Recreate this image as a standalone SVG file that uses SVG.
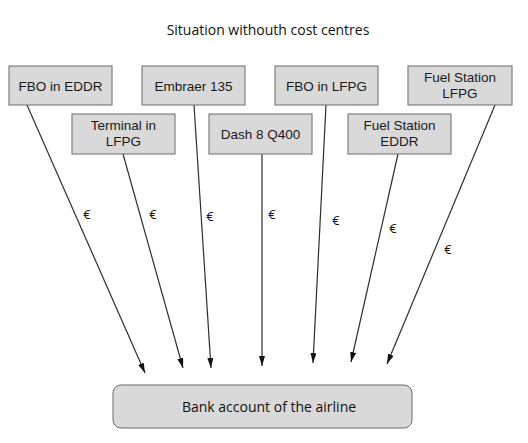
<svg xmlns="http://www.w3.org/2000/svg" width="528" height="443" viewBox="0 0 528 443">
<defs>
<style>
.box{fill:#d9d9d9;stroke:#6b6b6b;stroke-width:1}
.bt{font-family:"Liberation Sans",Arial,sans-serif;font-size:13.5px;fill:#1a1a1a;text-anchor:middle}
.ct{font-family:"Open Sans","Liberation Sans",sans-serif;font-size:14px;fill:#111;text-anchor:middle}
.eu{font-family:"Open Sans","Liberation Sans",sans-serif;font-size:13px;fill:#111;text-anchor:middle}
.ln{stroke:#2e2e2e;stroke-width:1.2;fill:none;marker-end:url(#ah)}
</style>
<marker id="ah" viewBox="0 0 10 6" refX="10" refY="3" markerWidth="10" markerHeight="6" markerUnits="userSpaceOnUse" orient="auto">
<path d="M0,0 L10,3 L0,6 Z" fill="#111"/>
</marker>
</defs>
<rect width="528" height="443" fill="#fff"/>
<text class="ct" x="268" y="35">Situation withouth cost centres</text>
<g id="connectors">
<line class="ln" x1="27" y1="105" x2="145" y2="373"/>
<line class="ln" x1="123" y1="154" x2="183" y2="368"/>
<line class="ln" x1="194" y1="105" x2="211" y2="368"/>
<line class="ln" x1="262" y1="154" x2="262" y2="366"/>
<line class="ln" x1="326" y1="105" x2="313" y2="363"/>
<line class="ln" x1="398" y1="154" x2="351" y2="362"/>
<line class="ln" x1="495" y1="105" x2="387" y2="364"/>
<text class="eu" x="87" y="219">€</text>
<text class="eu" x="153" y="219">€</text>
<text class="eu" x="210" y="221">€</text>
<text class="eu" x="272" y="219">€</text>
<text class="eu" x="336" y="225">€</text>
<text class="eu" x="393" y="233">€</text>
<text class="eu" x="448" y="254">€</text>
</g>
<g id="fbo-eddr"><rect class="box" x="9" y="66" width="103" height="39"/><text class="bt" x="60.5" y="90.5">FBO in EDDR</text></g>
<g id="embraer"><rect class="box" x="142" y="66" width="103" height="39"/><text class="bt" x="193.5" y="90.5">Embraer 135</text></g>
<g id="fbo-lfpg"><rect class="box" x="275" y="66" width="103" height="39"/><text class="bt" x="326.5" y="90.5">FBO in LFPG</text></g>
<g id="fuel-lfpg"><rect class="box" x="408" y="66" width="104" height="39"/><text class="bt" x="460" y="82">Fuel Station</text><text class="bt" x="460" y="98">LFPG</text></g>
<g id="terminal-lfpg"><rect class="box" x="72" y="114" width="103" height="40"/><text class="bt" x="123.5" y="130">Terminal in</text><text class="bt" x="123.5" y="146">LFPG</text></g>
<g id="dash8"><rect class="box" x="209" y="114" width="103" height="40"/><text class="bt" x="260.5" y="138.5">Dash 8 Q400</text></g>
<g id="fuel-eddr"><rect class="box" x="348" y="114" width="103" height="40"/><text class="bt" x="399.5" y="130">Fuel Station</text><text class="bt" x="399.5" y="146">EDDR</text></g>
<g id="bank"><rect class="box" x="113" y="385" width="299" height="43" rx="8"/><text class="ct" x="269" y="412">Bank account of the airline</text></g>
</svg>
